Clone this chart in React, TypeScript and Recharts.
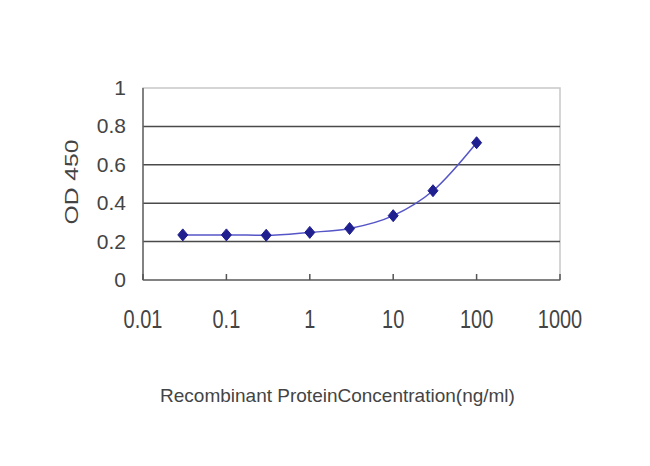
import React from "react";
import { LineChart, Line, XAxis, YAxis, ReferenceLine, ReferenceArea } from "recharts";

const concentrations = [0.03, 0.1, 0.3, 1, 3, 10, 30, 100];
const od450 = [0.235, 0.235, 0.233, 0.248, 0.268, 0.335, 0.465, 0.715];
const xTicks = [0.01, 0.1, 1, 10, 100, 1000];
const xTickLabels = ["0.01", "0.1", "1", "10", "100", "1000"];
const yTicks = [0, 0.2, 0.4, 0.6, 0.8, 1];
const yTickLabels = ["0", "0.2", "0.4", "0.6", "0.8", "1"];
const gridValues = [0.2, 0.4, 0.6, 0.8];

const data = concentrations.map((x, i) => ({ x, y: od450[i] }));

const FONT = "'Liberation Sans', Arial, sans-serif";
const TEXT = "#444444";

const XTick = (props: any) => {
  const { x, y, payload } = props;
  const idx = xTicks.indexOf(payload.value);
  const label = idx >= 0 ? xTickLabels[idx] : String(payload.value);
  const axisY = y - 2;
  return (
    <g>
      <line x1={x} x2={x} y1={axisY - 6} y2={axisY} stroke="#555" strokeWidth={1.5} />
      <g transform={`translate(${x},${axisY + 48}) scale(0.95,1.2)`}>
        <text textAnchor="middle" fontFamily={FONT} fontSize={21} fill={TEXT}>
          {label}
        </text>
      </g>
    </g>
  );
};

const YTick = (props: any) => {
  const { x, y, payload } = props;
  const idx = yTicks.indexOf(payload.value);
  const label = idx >= 0 ? yTickLabels[idx] : String(payload.value);
  return (
    <text x={x - 17} y={y + 7} textAnchor="end" fontFamily={FONT} fontSize={21} fill={TEXT}>
      {label}
    </text>
  );
};

const Diamond = (props: any) => {
  const { cx, cy } = props;
  if (cx == null || cy == null) return null;
  return (
    <path
      d={`M${cx},${cy - 6} L${cx + 5},${cy} L${cx},${cy + 6} L${cx - 5},${cy} Z`}
      fill="#1f1f8f"
      stroke="#1f1f8f"
      strokeWidth={1}
    />
  );
};

const XTitle = (props: any) => {
  const vb = props.viewBox || { x: 0, y: 0, width: 0, height: 0 };
  return (
    <text
      x={vb.x + vb.width / 2 - 14}
      y={vb.y + 122}
      textAnchor="middle"
      fontFamily={FONT}
      fontSize={19}
      fill={TEXT}
    >
      Recombinant ProteinConcentration(ng/ml)
    </text>
  );
};

const YTitle = (props: any) => {
  const vb = props.viewBox || { x: 0, y: 0, width: 0, height: 0 };
  const cx = 78;
  const cy = vb.y + vb.height / 2 - 2;
  return (
    <g transform={`translate(${cx},${cy}) rotate(-90) scale(1.3,1)`}>
      <text textAnchor="middle" fontFamily={FONT} fontSize={19} fill={TEXT}>
        OD 450
      </text>
    </g>
  );
};

export default function App() {
  return (
    <div style={{ position: "absolute", left: 0, top: 0, background: "#fff" }}>
      <LineChart
        width={650}
        height={466}
        data={data}
        margin={{ top: 88, right: 90, left: 0, bottom: 0 }}
      >
        <ReferenceArea
          x1={0.01}
          x2={1000}
          y1={0}
          y2={1}
          fill="#ffffff"
          fillOpacity={1}
          stroke="#c8c8c8"
          strokeWidth={1.5}
          ifOverflow="extendDomain"
        />
        {gridValues.map((v) => (
          <ReferenceLine key={v} y={v} stroke="#4a4a4a" strokeWidth={1.5} />
        ))}
        <XAxis
          dataKey="x"
          type="number"
          scale="log"
          domain={[0.01, 1000]}
          ticks={xTicks}
          allowDataOverflow
          height={186}
          tickLine={false}
          tickSize={0}
          tickMargin={2}
          axisLine={{ stroke: "#666", strokeWidth: 1.5 }}
          tick={<XTick />}
          interval={0}
          label={<XTitle />}
        />
        <YAxis
          type="number"
          domain={[0, 1]}
          ticks={yTicks}
          width={143}
          tickLine={false}
          tickSize={0}
          tickMargin={0}
          axisLine={{ stroke: "#666", strokeWidth: 1.5 }}
          tick={<YTick />}
          interval={0}
          label={<YTitle />}
        />
        <Line
          type="monotone"
          dataKey="y"
          stroke="#5555c8"
          strokeWidth={1.5}
          dot={<Diamond />}
          activeDot={false}
          isAnimationActive={false}
        />
      </LineChart>
    </div>
  );
}
